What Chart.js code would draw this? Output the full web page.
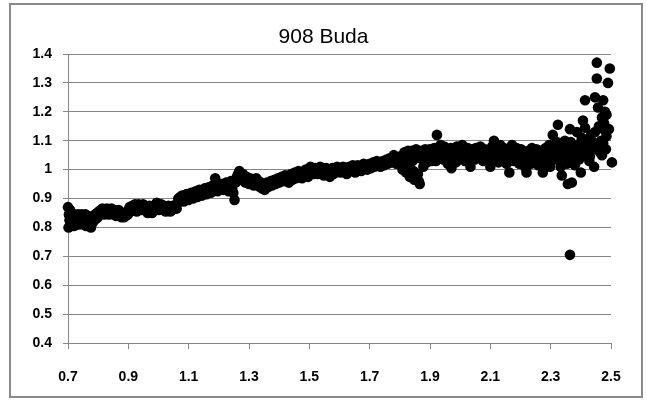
<!DOCTYPE html>
<html>
<head>
<meta charset="utf-8">
<script src="https://cdn.jsdelivr.net/npm/chart.js@4.4.0/dist/chart.umd.min.js"></script>
<style>
  html, body { margin: 0; padding: 0; background: #ffffff; }
  #wrap { width: 647px; height: 400px; position: relative; }
</style>
</head>
<body>
<div id="wrap"><canvas id="c" width="647" height="400"></canvas></div>
<script>
const chartTitle = "908 Buda";
const xTickValues = [0.7, 0.9, 1.1, 1.3, 1.5, 1.7, 1.9, 2.1, 2.3, 2.5];
const yTickValues = [0.4, 0.5, 0.6, 0.7, 0.8, 0.9, 1.0, 1.1, 1.2, 1.3, 1.4];

const xValues = [
0.700,0.702,0.703,0.705,0.707,0.708,0.710,0.712,0.714,0.716,0.718,0.720,0.722,0.725,0.727,0.730,0.733,0.735,0.738,0.740,0.743,0.745,0.748,0.750,0.753,0.756,0.758,0.760,0.763,0.766,0.768,0.770,0.773,0.776,0.778,0.781,0.784,0.787,0.790,0.793,0.796,0.799,
0.802,0.805,0.808,0.811,0.814,0.817,0.820,0.823,0.826,0.829,0.832,0.835,0.838,0.841,0.844,0.847,0.850,0.853,0.856,0.859,0.862,0.865,0.868,0.871,0.874,0.877,0.880,0.883,0.886,0.889,0.892,0.895,0.898,
0.901,0.904,0.907,0.910,0.913,0.916,0.919,0.922,0.925,0.928,0.931,0.934,0.937,0.940,0.943,0.946,0.949,0.952,0.955,0.958,0.961,0.964,0.967,0.970,0.973,0.976,0.979,0.982,0.985,0.988,0.991,0.994,0.997,1.000,1.003,1.006,1.009,1.012,1.015,1.018,1.021,1.024,1.027,1.030,1.033,1.036,1.039,1.042,1.045,1.048,1.051,1.054,1.057,1.060,
1.063,1.066,1.069,1.072,1.075,1.078,1.081,1.084,1.087,1.090,1.093,1.096,1.099,1.102,1.105,1.108,1.111,1.114,1.117,1.120,1.123,1.126,1.129,1.132,1.135,1.138,1.141,1.144,1.147,1.150,1.153,1.156,1.159,1.162,1.165,1.168,1.171,1.174,1.177,1.180,1.184,1.188,1.192,1.196,1.200,1.204,1.208,1.212,1.216,1.220,1.224,1.228,1.232,1.236,1.240,1.244,1.248,1.252,1.256,
1.260,1.264,1.268,1.272,1.276,1.280,1.284,1.288,1.292,1.296,1.300,1.304,1.308,1.312,1.316,1.320,1.324,1.328,1.332,1.336,1.340,1.344,1.348,1.352,1.356,1.360,1.364,1.368,1.372,1.376,1.380,1.384,1.388,1.392,1.396,
1.400,1.404,1.408,1.412,1.416,1.420,1.424,1.428,1.432,1.436,1.440,1.444,1.448,1.452,1.456,1.460,1.464,1.468,1.472,1.476,1.480,1.484,1.488,1.492,1.496,1.500,1.504,1.508,1.512,1.516,1.520,1.524,1.528,1.532,1.536,1.540,1.544,1.548,1.552,1.556,1.560,1.564,1.568,1.572,1.576,1.580,1.584,1.588,1.592,1.596,
1.600,1.604,1.608,1.612,1.616,1.620,1.624,1.628,1.632,1.636,1.640,1.644,1.648,1.652,1.656,1.660,1.664,1.668,1.672,1.676,1.680,1.684,1.688,1.692,1.696,1.700,1.704,1.708,1.712,1.716,1.720,1.724,1.728,1.732,1.736,1.740,1.744,1.748,1.752,1.756,1.760,1.764,1.768,1.772,1.776,1.780,1.784,1.788,1.792,1.796,
1.800,1.803,1.806,1.809,1.812,1.815,1.818,1.821,1.824,1.827,1.830,1.833,1.836,1.839,1.842,1.845,1.848,1.851,1.854,1.857,1.860,1.863,1.866,1.869,1.872,1.875,1.878,1.881,1.884,1.887,1.890,1.893,1.896,1.899,
1.902,1.905,1.908,1.911,1.914,1.917,1.920,1.923,1.926,1.929,1.932,1.935,1.938,1.941,1.944,1.947,1.950,1.953,1.956,1.959,1.962,1.965,1.968,1.971,1.974,1.977,1.980,1.983,1.986,1.989,1.992,1.995,1.998,2.001,2.004,2.007,2.010,2.013,2.016,2.019,2.022,2.025,2.028,2.031,2.034,2.037,2.040,2.043,2.046,2.049,2.052,2.055,2.058,2.061,2.064,2.067,2.070,2.073,2.076,2.079,2.082,2.085,2.088,2.091,2.094,2.097,
2.100,2.103,2.106,2.109,2.112,2.115,2.118,2.121,2.124,2.127,2.130,2.133,2.136,2.139,2.142,2.145,2.148,2.151,2.154,2.157,2.160,2.163,2.166,2.169,2.172,2.175,2.178,2.181,2.184,2.187,2.190,2.193,2.196,2.199,2.202,2.205,2.208,2.211,2.214,2.217,2.220,2.223,2.226,2.229,2.232,2.235,2.238,2.241,2.244,2.247,2.250,2.253,2.256,2.259,2.262,2.265,2.268,2.271,2.274,2.277,2.280,2.283,2.286,2.289,2.292,2.295,2.298,
2.304,2.307,2.310,2.314,2.318,2.321,2.324,2.327,2.330,2.333,2.337,2.340,2.344,2.347,2.350,2.354,2.357,2.360,2.364,2.364,2.367,2.370,2.373,2.375,2.380,2.384,2.387,2.390,2.394,2.397,2.400,2.403,2.407,2.410,2.414,2.414,2.418,2.422,2.425,2.428,2.430,2.434,2.437,2.440,2.444,2.447,2.447,2.450,2.453,2.453,2.457,2.460,2.463,2.467,2.470,2.470,2.474,2.474,2.477,2.480,2.480,2.483,2.485,2.485,2.490,2.493,2.496,2.503
];

const yValues = [
0.870,0.800,0.845,0.825,0.860,0.810,0.835,0.850,0.815,0.830,0.845,0.805,0.825,0.840,0.815,0.830,0.845,0.810,0.825,0.835,0.815,0.845,0.825,0.810,0.835,0.820,0.845,0.805,0.825,0.840,0.815,0.830,0.820,0.800,0.835,0.815,0.840,0.825,0.845,0.830,0.850,0.835,
0.855,0.845,0.860,0.850,0.865,0.855,0.845,0.860,0.850,0.865,0.855,0.845,0.860,0.850,0.865,0.855,0.845,0.860,0.850,0.840,0.855,0.845,0.860,0.850,0.840,0.835,0.850,0.845,0.835,0.850,0.840,0.855,0.845,
0.860,0.870,0.855,0.865,0.875,0.860,0.870,0.880,0.865,0.855,0.870,0.880,0.865,0.875,0.860,0.870,0.880,0.865,0.875,0.860,0.870,0.850,0.865,0.875,0.855,0.865,0.850,0.870,0.860,0.875,0.865,0.885,0.870,0.860,0.875,0.865,0.880,0.870,0.860,0.875,0.865,0.855,0.870,0.860,0.875,0.865,0.855,0.870,0.860,0.875,0.865,0.870,0.875,0.865,
0.885,0.900,0.890,0.905,0.895,0.910,0.900,0.890,0.910,0.900,0.915,0.905,0.895,0.915,0.905,0.920,0.910,0.900,0.920,0.910,0.925,0.915,0.905,0.920,0.930,0.915,0.925,0.910,0.930,0.920,0.935,0.925,0.915,0.935,0.925,0.940,0.930,0.920,0.935,0.945,0.930,0.970,0.940,0.925,0.945,0.935,0.950,0.940,0.930,0.945,0.955,0.940,0.925,0.950,0.960,0.935,0.920,0.895,0.955,
0.975,0.985,0.995,0.980,0.965,0.985,0.970,0.955,0.975,0.960,0.950,0.970,0.955,0.965,0.945,0.960,0.970,0.950,0.960,0.940,0.955,0.935,0.950,0.930,0.945,0.955,0.940,0.950,0.960,0.945,0.955,0.965,0.950,0.960,0.970,
0.955,0.965,0.975,0.960,0.970,0.980,0.965,0.975,0.955,0.970,0.985,0.965,0.975,0.990,0.970,0.980,0.995,0.975,0.985,0.970,0.990,0.980,1.000,0.985,0.975,0.995,1.010,0.990,1.000,0.985,1.005,0.995,0.985,1.000,1.010,0.990,1.000,0.980,0.995,1.005,0.985,0.995,0.975,0.990,1.005,0.985,1.000,0.990,1.010,0.995,
1.005,0.990,1.000,1.010,0.995,1.005,0.985,1.000,1.010,0.995,1.005,1.015,1.000,0.990,1.005,1.015,1.000,1.010,0.995,1.005,1.020,1.005,1.015,1.000,1.010,1.020,1.005,1.015,1.025,1.010,1.020,1.030,1.015,1.025,1.010,1.020,1.030,1.015,1.025,1.035,1.020,1.030,1.040,1.025,1.035,1.050,1.030,1.020,1.040,1.025,
1.045,1.030,1.015,1.000,1.040,1.060,1.025,0.990,1.050,1.065,1.010,0.975,1.045,1.065,1.030,0.995,0.965,1.055,1.070,1.040,0.985,0.960,0.950,1.050,1.065,1.035,1.010,1.055,1.070,1.045,1.025,1.060,1.040,1.070,
1.050,1.030,1.065,1.045,1.075,1.055,1.030,1.120,1.060,1.045,1.070,1.085,1.050,1.065,1.035,1.080,1.055,1.040,1.070,1.020,1.060,1.045,1.075,1.005,1.055,1.070,1.040,1.060,1.025,1.080,1.050,1.065,1.040,1.070,1.055,1.085,1.045,1.060,1.030,1.065,1.050,1.075,1.040,1.060,1.010,1.050,1.070,1.045,1.060,1.035,1.075,1.055,1.040,1.065,1.050,1.080,1.045,1.060,1.030,1.055,1.070,1.045,1.060,1.040,1.065,1.050,
1.010,1.060,1.080,1.045,1.100,1.065,1.035,1.075,1.050,1.025,1.065,1.085,1.040,1.060,1.030,1.075,1.050,1.065,1.020,1.055,1.040,0.990,1.070,1.045,1.085,1.055,1.030,1.065,1.045,1.075,1.035,1.060,1.020,1.050,1.070,1.040,1.060,1.030,1.055,1.005,0.990,1.045,1.065,1.035,1.055,1.020,1.075,1.045,1.060,1.030,1.050,1.070,1.040,1.015,1.055,1.035,1.065,1.045,0.990,1.020,1.055,1.075,1.040,1.060,1.030,1.085,1.010,
1.080,1.120,1.050,1.035,1.065,1.095,1.155,1.040,1.070,1.010,0.980,1.060,1.085,1.100,1.045,1.020,0.950,1.075,1.140,0.705,1.095,0.955,1.035,1.055,1.015,1.080,1.130,1.060,1.035,1.090,0.990,1.110,1.170,1.070,1.240,1.145,1.050,1.085,1.100,1.030,1.045,1.120,1.070,1.095,1.010,1.250,1.130,1.080,1.370,1.315,1.215,1.150,1.060,1.100,1.180,1.050,1.240,1.090,1.160,1.200,1.135,1.070,1.190,1.115,1.300,1.140,1.350,1.025
];

const points = xValues.map((x, i) => ({ x: x, y: yValues[i] }));

const gridGrey = '#868686';
const fontFamily = '"Liberation Sans", Arial, sans-serif';

const frame = {
  id: 'frame',
  afterDraw(chart) {
    const ctx = chart.ctx;
    ctx.save();
    ctx.strokeStyle = '#8a8a8a';
    ctx.lineWidth = 2;
    ctx.strokeRect(10, 4, 632, 393);
    ctx.restore();
  }
};

const fmt = v => String(Math.round(v * 10) / 10);

new Chart(document.getElementById('c'), {
  type: 'scatter',
  data: {
    datasets: [{
      data: points,
      clip: false,
      backgroundColor: '#000000',
      borderColor: '#000000',
      borderWidth: 0,
      pointRadius: 5.3,
      pointHoverRadius: 5.3
    }]
  },
  options: {
    responsive: false,
    animation: false,
    devicePixelRatio: 1,
    layout: { padding: { left: 0, right: 0, top: 0, bottom: 0 } },
    plugins: {
      legend: { display: false },
      tooltip: { enabled: false },
      title: {
        display: true,
        text: chartTitle,
        color: '#000000',
        font: { family: fontFamily, size: 21, weight: 'normal', lineHeight: 1.2 },
        padding: { top: 25, bottom: 3.8 }
      }
    },
    scales: {
      x: {
        type: 'linear',
        min: xTickValues[0],
        max: xTickValues[xTickValues.length - 1],
        afterBuildTicks: s => { s.ticks = xTickValues.map(v => ({ value: v })); },
        afterFit: s => { s.height = 57; },
        grid: { drawOnChartArea: false, drawTicks: true, tickLength: 6, color: gridGrey, lineWidth: 1 },
        border: { display: true, color: gridGrey, width: 1 },
        ticks: {
          color: '#000000',
          padding: 20,
          maxRotation: 0,
          autoSkip: false,
          font: { family: fontFamily, size: 14, weight: 'bold' },
          callback: v => fmt(v)
        }
      },
      y: {
        type: 'linear',
        position: 'left',
        min: yTickValues[0],
        max: yTickValues[yTickValues.length - 1],
        afterBuildTicks: s => { s.ticks = yTickValues.map(v => ({ value: v })); },
        afterFit: s => { s.width = 68; },
        grid: { drawOnChartArea: true, drawTicks: true, tickLength: 5, color: gridGrey, lineWidth: 1 },
        border: { display: true, color: gridGrey, width: 1 },
        ticks: {
          color: '#000000',
          padding: 11,
          autoSkip: false,
          font: { family: fontFamily, size: 14, weight: 'bold' },
          callback: v => fmt(v)
        }
      },
      spacer: {
        type: 'linear',
        position: 'right',
        min: 0,
        max: 1,
        display: true,
        afterFit: s => { s.width = 36; },
        grid: { display: false, drawOnChartArea: false },
        border: { display: false },
        ticks: { display: false }
      }
    }
  },
  plugins: [frame]
});
</script>
</body>
</html>
